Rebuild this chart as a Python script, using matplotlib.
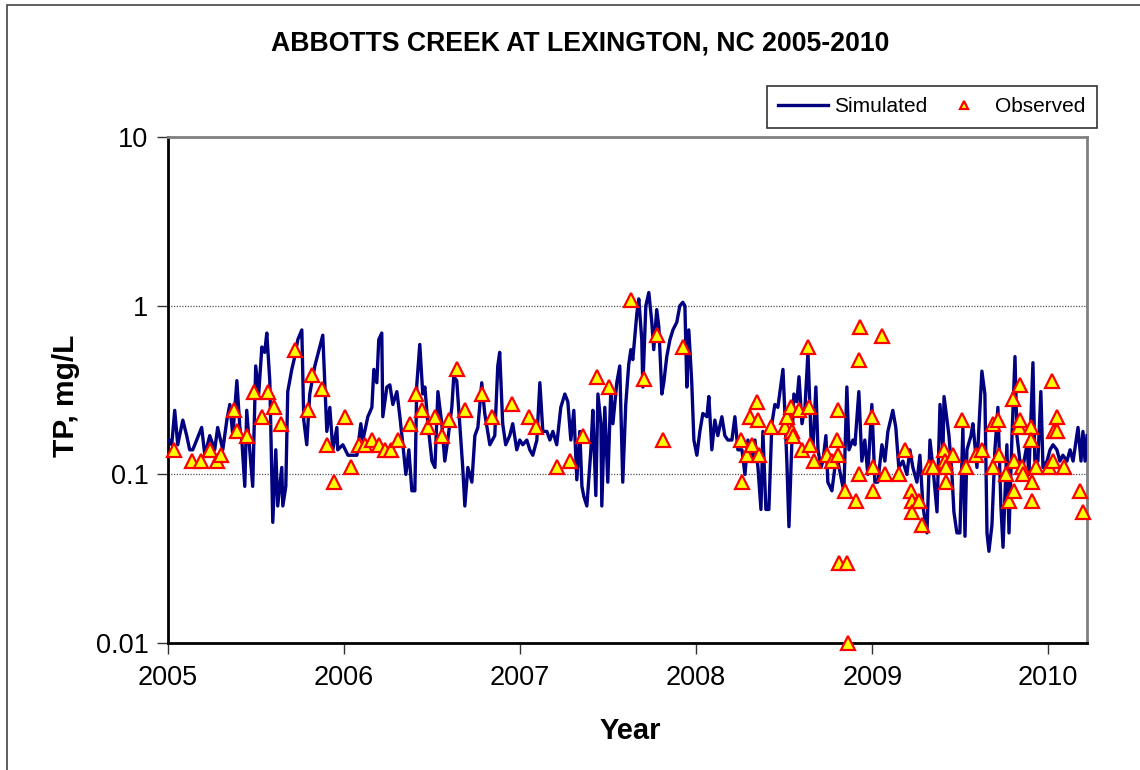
import matplotlib
matplotlib.use('Agg')
import matplotlib.pyplot as plt
from matplotlib.patches import Rectangle
from matplotlib.ticker import FixedLocator, FixedFormatter

plt.rcParams['font.family'] = ['Liberation Sans', 'DejaVu Sans']

# simulated daily TP (decimal year, mg/L)
sim_year = [
    2005.006, 2005.021, 2005.038, 2005.055, 2005.084, 2005.106, 2005.123, 2005.140, 2005.152, 2005.191,
    2005.209, 2005.237, 2005.265, 2005.282, 2005.311, 2005.334, 2005.351, 2005.368, 2005.391, 2005.408,
    2005.419, 2005.436, 2005.447, 2005.464, 2005.481, 2005.498, 2005.515, 2005.533, 2005.549, 2005.561,
    2005.578, 2005.595, 2005.612, 2005.623, 2005.646, 2005.652, 2005.669, 2005.680, 2005.703, 2005.720,
    2005.737, 2005.760, 2005.771, 2005.788, 2005.805, 2005.834, 2005.862, 2005.879, 2005.902, 2005.919,
    2005.936, 2005.959, 2005.964, 2005.993, 2006.022, 2006.050, 2006.073, 2006.095, 2006.107, 2006.135,
    2006.158, 2006.169, 2006.186, 2006.197, 2006.214, 2006.220, 2006.243, 2006.260, 2006.277, 2006.300,
    2006.317, 2006.334, 2006.351, 2006.368, 2006.385, 2006.402, 2006.413, 2006.430, 2006.447, 2006.459,
    2006.476, 2006.499, 2006.516, 2006.533, 2006.555, 2006.572, 2006.589, 2006.612, 2006.623, 2006.640,
    2006.657, 2006.674, 2006.686, 2006.703, 2006.726, 2006.743, 2006.760, 2006.782, 2006.799, 2006.828,
    2006.856, 2006.873, 2006.884, 2006.901, 2006.918, 2006.941, 2006.958, 2006.981, 2006.998, 2007.015,
    2007.038, 2007.055, 2007.072, 2007.095, 2007.112, 2007.129, 2007.152, 2007.169, 2007.186, 2007.208,
    2007.231, 2007.254, 2007.271, 2007.288, 2007.305, 2007.322, 2007.339, 2007.351, 2007.362, 2007.379,
    2007.402, 2007.413, 2007.430, 2007.442, 2007.459, 2007.464, 2007.481, 2007.498, 2007.515, 2007.527,
    2007.549, 2007.566, 2007.583, 2007.600, 2007.617, 2007.629, 2007.640, 2007.663, 2007.674, 2007.691,
    2007.697, 2007.714, 2007.731, 2007.748, 2007.759, 2007.776, 2007.788, 2007.805, 2007.816, 2007.833,
    2007.851, 2007.868, 2007.890, 2007.907, 2007.924, 2007.936, 2007.947, 2007.958, 2007.975, 2007.987,
    2008.004, 2008.021, 2008.038, 2008.061, 2008.072, 2008.089, 2008.106, 2008.123, 2008.146, 2008.163,
    2008.180, 2008.203, 2008.220, 2008.237, 2008.260, 2008.277, 2008.294, 2008.316, 2008.334, 2008.351,
    2008.368, 2008.379, 2008.396, 2008.413, 2008.430, 2008.447, 2008.464, 2008.493, 2008.504, 2008.515,
    2008.527, 2008.544, 2008.555, 2008.572, 2008.584, 2008.601, 2008.618, 2008.635, 2008.652, 2008.663,
    2008.680, 2008.692, 2008.709, 2008.720, 2008.737, 2008.748, 2008.771, 2008.788, 2008.805, 2008.828,
    2008.839, 2008.856, 2008.868, 2008.890, 2008.902, 2008.924, 2008.941, 2008.958, 2008.975, 2008.998,
    2009.015, 2009.032, 2009.055, 2009.072, 2009.089, 2009.117, 2009.134, 2009.151, 2009.174, 2009.197,
    2009.214, 2009.231, 2009.254, 2009.271, 2009.288, 2009.311, 2009.328, 2009.345, 2009.357, 2009.368,
    2009.385, 2009.402, 2009.408, 2009.425, 2009.436, 2009.453, 2009.464, 2009.481, 2009.498, 2009.515,
    2009.527, 2009.538, 2009.561, 2009.572, 2009.595, 2009.606, 2009.623, 2009.640, 2009.652, 2009.663,
    2009.680, 2009.697, 2009.714, 2009.731, 2009.743, 2009.765, 2009.777, 2009.794, 2009.811, 2009.822,
    2009.839, 2009.856, 2009.879, 2009.890, 2009.913, 2009.924, 2009.941, 2009.958, 2009.970, 2009.993,
    2010.010, 2010.027, 2010.049, 2010.066, 2010.083, 2010.106, 2010.124, 2010.141, 2010.169, 2010.186,
    2010.197, 2010.209, 2010.220,
]
sim_tp = [
    0.16, 0.15, 0.24, 0.15, 0.21, 0.17, 0.14, 0.14, 0.15, 0.19,
    0.13, 0.17, 0.14, 0.19, 0.14, 0.21, 0.26, 0.17, 0.36, 0.19,
    0.16, 0.085, 0.24, 0.14, 0.085, 0.44, 0.30, 0.57, 0.53, 0.69,
    0.36, 0.052, 0.14, 0.065, 0.11, 0.065, 0.085, 0.31, 0.42, 0.50,
    0.63, 0.72, 0.21, 0.15, 0.30, 0.44, 0.57, 0.67, 0.18, 0.25,
    0.14, 0.19, 0.14, 0.15, 0.13, 0.13, 0.13, 0.20, 0.16, 0.22,
    0.25, 0.42, 0.35, 0.63, 0.69, 0.22, 0.33, 0.34, 0.26, 0.31,
    0.22, 0.15, 0.10, 0.14, 0.08, 0.08, 0.34, 0.59, 0.30, 0.33,
    0.20, 0.12, 0.11, 0.31, 0.20, 0.12, 0.16, 0.25, 0.38, 0.36,
    0.20, 0.11, 0.065, 0.11, 0.09, 0.17, 0.19, 0.35, 0.23, 0.15,
    0.17, 0.44, 0.53, 0.20, 0.15, 0.17, 0.20, 0.14, 0.16, 0.15,
    0.16, 0.14, 0.13, 0.16, 0.35, 0.18, 0.18, 0.16, 0.18, 0.15,
    0.25, 0.30, 0.27, 0.16, 0.24, 0.093, 0.18, 0.085, 0.074, 0.065,
    0.14, 0.24, 0.075, 0.30, 0.20, 0.065, 0.25, 0.09, 0.31, 0.20,
    0.35, 0.44, 0.09, 0.26, 0.45, 0.55, 0.48, 0.90, 1.10, 0.63,
    0.33, 1.00, 1.20, 0.80, 0.55, 0.95, 0.75, 0.30, 0.35, 0.50,
    0.63, 0.72, 0.80, 1.00, 1.05, 1.00, 0.33, 0.72, 0.35, 0.16,
    0.13, 0.18, 0.23, 0.22, 0.29, 0.14, 0.21, 0.17, 0.22, 0.17,
    0.16, 0.16, 0.22, 0.14, 0.14, 0.10, 0.16, 0.12, 0.16, 0.11,
    0.062, 0.18, 0.062, 0.062, 0.20, 0.26, 0.25, 0.42, 0.23, 0.12,
    0.049, 0.16, 0.30, 0.27, 0.38, 0.20, 0.25, 0.53, 0.17, 0.14,
    0.33, 0.14, 0.11, 0.12, 0.17, 0.09, 0.08, 0.11, 0.12, 0.09,
    0.08, 0.33, 0.14, 0.16, 0.15, 0.31, 0.12, 0.16, 0.10, 0.26,
    0.09, 0.09, 0.15, 0.12, 0.18, 0.24, 0.19, 0.11, 0.12, 0.10,
    0.14, 0.11, 0.09, 0.13, 0.065, 0.045, 0.16, 0.11, 0.08, 0.06,
    0.26, 0.14, 0.29, 0.21, 0.17, 0.10, 0.06, 0.045, 0.045, 0.19,
    0.043, 0.14, 0.17, 0.20, 0.11, 0.19, 0.41, 0.30, 0.045, 0.035,
    0.05, 0.14, 0.25, 0.065, 0.037, 0.15, 0.045, 0.17, 0.50, 0.17,
    0.12, 0.11, 0.15, 0.10, 0.46, 0.12, 0.12, 0.31, 0.11, 0.12,
    0.14, 0.15, 0.14, 0.12, 0.13, 0.12, 0.14, 0.12, 0.19, 0.12,
    0.18, 0.12, 0.17,
]

# observed grab samples
obs_year = [
    2005.032, 2005.136, 2005.188, 2005.241, 2005.278, 2005.303, 2005.373, 2005.389, 2005.451, 2005.489,
    2005.531, 2005.568, 2005.601, 2005.642, 2005.724, 2005.795, 2005.818, 2005.872, 2005.903, 2005.943,
    2006.004, 2006.042, 2006.084, 2006.118, 2006.156, 2006.197, 2006.231, 2006.269, 2006.307, 2006.373,
    2006.407, 2006.443, 2006.477, 2006.519, 2006.559, 2006.595, 2006.639, 2006.688, 2006.784, 2006.843,
    2006.955, 2007.049, 2007.093, 2007.207, 2007.286, 2007.358, 2007.434, 2007.506, 2007.629, 2007.703,
    2007.778, 2007.809, 2007.926, 2008.252, 2008.258, 2008.286, 2008.305, 2008.315, 2008.343, 2008.352,
    2008.356, 2008.424, 2008.504, 2008.514, 2008.538, 2008.542, 2008.548, 2008.585, 2008.599, 2008.640,
    2008.637, 2008.646, 2008.670, 2008.744, 2008.769, 2008.798, 2008.803, 2008.807, 2008.813, 2008.845,
    2008.855, 2008.860, 2008.908, 2008.926, 2008.924, 2008.930, 2009.000, 2009.002, 2009.006, 2009.053,
    2009.072, 2009.153, 2009.186, 2009.218, 2009.224, 2009.226, 2009.267, 2009.284, 2009.322, 2009.343,
    2009.407, 2009.413, 2009.418, 2009.420, 2009.460, 2009.511, 2009.532, 2009.589, 2009.625, 2009.684,
    2009.686, 2009.716, 2009.722, 2009.758, 2009.778, 2009.801, 2009.805, 2009.807, 2009.835, 2009.839,
    2009.841, 2009.852, 2009.854, 2009.900, 2009.902, 2009.906, 2009.909, 2009.930, 2010.006, 2010.023,
    2010.025, 2010.033, 2010.048, 2010.050, 2010.089, 2010.180, 2010.195,
]
obs_tp = [
    0.14, 0.12, 0.12, 0.14, 0.12, 0.13, 0.24, 0.18, 0.17, 0.31,
    0.22, 0.31, 0.25, 0.20, 0.55, 0.24, 0.39, 0.32, 0.15, 0.09,
    0.22, 0.11, 0.15, 0.15, 0.16, 0.15, 0.14, 0.14, 0.16, 0.20,
    0.30, 0.24, 0.19, 0.22, 0.17, 0.21, 0.42, 0.24, 0.30, 0.22,
    0.26, 0.22, 0.19, 0.11, 0.12, 0.17, 0.38, 0.33, 1.09, 0.37,
    0.67, 0.16, 0.57, 0.16, 0.09, 0.13, 0.22, 0.15, 0.27, 0.21,
    0.13, 0.19, 0.19, 0.22, 0.25, 0.18, 0.17, 0.24, 0.14, 0.25,
    0.57, 0.15, 0.12, 0.13, 0.12, 0.16, 0.24, 0.13, 0.03, 0.08,
    0.03, 0.01, 0.07, 0.10, 0.48, 0.75, 0.22, 0.11, 0.08, 0.66,
    0.10, 0.10, 0.14, 0.08, 0.07, 0.06, 0.07, 0.05, 0.11, 0.11,
    0.14, 0.12, 0.11, 0.09, 0.13, 0.21, 0.11, 0.13, 0.14, 0.20,
    0.11, 0.21, 0.13, 0.10, 0.07, 0.28, 0.12, 0.08, 0.19, 0.34,
    0.21, 0.11, 0.10, 0.19, 0.16, 0.09, 0.07, 0.11, 0.11, 0.36,
    0.12, 0.18, 0.22, 0.18, 0.11, 0.08, 0.06,
]

year_ticks = [2005, 2006, 2007, 2008, 2009, 2010]
tp_ticks = [0.01, 0.1, 1, 10]
tp_labels = ['0.01', '0.1', '1', '10']

fig = plt.figure(figsize=(11.4, 7.7), dpi=100)
ax = fig.add_axes([0.1474, 0.1649, 0.8061, 0.6568])

ax.plot(sim_year, sim_tp, color='#000080', lw=2.4, label='Simulated', zorder=3)
ax.plot(obs_year, obs_tp, ls='none', marker='^', ms=10.5, mfc='#ffff00', mec='#ff0000',
        mew=1.6, label='Observed', zorder=4, clip_on=False)

ax.set_yscale('log')
ax.set_ylim(0.01, 10)
ax.set_xlim(2005.0, 2010.22)
ax.yaxis.set_major_locator(FixedLocator(tp_ticks))
ax.yaxis.set_major_formatter(FixedFormatter(tp_labels))
ax.yaxis.set_minor_locator(FixedLocator([]))
ax.xaxis.set_major_locator(FixedLocator(year_ticks))
ax.xaxis.set_major_formatter(FixedFormatter([str(y) for y in year_ticks]))
ax.tick_params(axis='both', direction='out', length=8, width=1, labelsize=19.5, pad=6, color='#333333')
ax.tick_params(axis='x', pad=8)

# dotted grid only at the inner decades
for v in [0.1, 1]:
    ax.axhline(v, color='#555555', lw=0.9, ls=(0, (1, 1.2)), zorder=1)

for side in ['left', 'bottom']:
    ax.spines[side].set_color('black')
    ax.spines[side].set_linewidth(2)
for side in ['top', 'right']:
    ax.spines[side].set_color('#808080')
    ax.spines[side].set_linewidth(2)

ax.set_xlabel('Year', fontsize=21, fontweight='bold')
ax.xaxis.set_label_coords(0.503, -0.147)
ax.set_ylabel('TP, mg/L', fontsize=21.5, fontweight='bold')
ax.yaxis.set_label_coords(-0.096, 0.488)
fig.text(0.5088, 0.943, 'ABBOTTS CREEK AT LEXINGTON, NC 2005-2010', ha='center', va='center',
         fontsize=19.2, fontweight='bold')

leg = fig.legend(loc='upper right', bbox_to_anchor=(0.9623, 0.8883), ncol=2, fontsize=15,
                 frameon=True, fancybox=False, edgecolor='black', borderaxespad=0,
                 handlelength=2.4, handletextpad=0.3, columnspacing=0.55, markerscale=0.6,
                 borderpad=0.55)
leg.get_frame().set_linewidth(1.2)

# chart border (runs past the right and bottom edges)
fig.patches.append(Rectangle((0.006, -0.02), 1.1, 1.0135, transform=fig.transFigure,
                             fill=False, edgecolor='#444444', lw=1.2))

fig.savefig('out.png', dpi=100)
